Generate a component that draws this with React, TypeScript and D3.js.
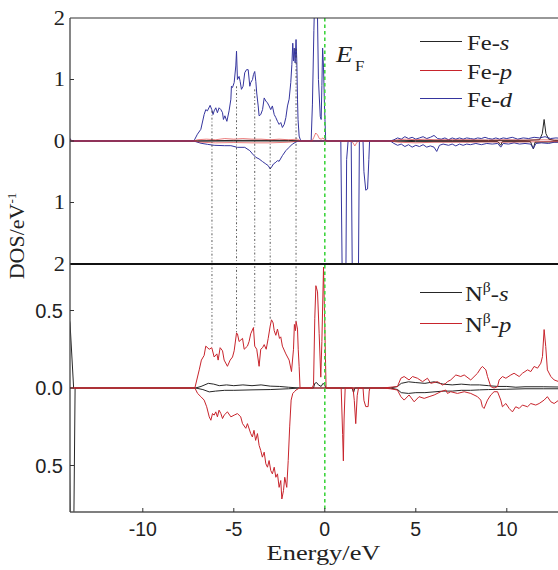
import React from "react";
import * as d3 from "d3";

type P = [number, number];

// ---------- data (energy in eV, DOS in states/eV) ----------
const xTicks = [-10, -5, 0, 5, 10];
const topTicks = [2, 1, 0, -1, -2];
const botTicks = [0.5, 0, -0.5];
const botTickLabels = ["0.5", "0.0", "0.5"];
const topLegend = ["s", "p", "d"];
const botLegend = ["s", "p"];

const feS_up: P[] = [[-14.05,0],[-14,0.03],[-13.9,0],[-7,0],[-5,0.01],[-2,0.01],[-1.4,0],[3.8,0],[5,0.01],[7,0.01],[9,0.01],[11,0.01],[11.8,0.02],[11.95,0.12],[12.05,0.35],[12.15,0.12],[12.3,0.03],[12.6,0.01],[13.5,0.01]];
const feS_dn: P[] = [[-14.05,0],[3.8,0],[5,-0.01],[9.5,-0.01],[9.67,-0.07],[9.75,-0.01],[11.3,-0.01],[11.46,-0.13],[11.55,-0.02],[13.5,-0.01]];

const feP_up: P[] = [[-14.05,0],[-14,0.03],[-13.9,0],[-7.2,0],[-7.0,0.02],[-6.5,0.03],[-6.0,0.02],[-5.5,0.04],[-5.0,0.03],[-4.5,0.04],[-4.0,0.03],[-3.5,0.03],[-3.0,0.02],[-2.5,0.03],[-2.0,0.02],[-1.5,0.03],[-1.35,0],[-0.7,0],[-0.6,0.06],[-0.5,0.13],[-0.4,0.1],[-0.3,0.04],[-0.2,0.03],[-0.1,0.05],[0.05,0],[3.6,0],[4.0,0.02],[4.5,0.03],[5,0.02],[5.5,0.03],[6,0.02],[7,0.02],[8,0.02],[9,0.015],[10,0.02],[11,0.015],[12,0.02],[13.5,0.01]];
const feP_dn: P[] = [[-14.05,0],[-7.2,0],[-6.8,-0.02],[-6.0,-0.03],[-5,-0.025],[-4,-0.03],[-3,-0.03],[-2,-0.02],[-1.4,0],[1.45,0],[1.55,-0.03],[1.65,-0.08],[1.75,-0.03],[1.85,0],[3.6,0],[4,-0.02],[5,-0.03],[6,-0.02],[7,-0.02],[8,-0.02],[9,-0.015],[10,-0.02],[11,-0.015],[12,-0.01],[13.5,-0.01]];

const feD_up: P[] = [[-14.05,0],[-14,0.04],[-13.9,0],[-7.2,0],[-7.14,0.03],[-7.0,0.11],[-6.81,0.19],[-6.63,0.43],[-6.54,0.51],[-6.45,0.49],[-6.3,0.58],[-6.21,0.51],[-6.14,0.43],[-6.08,0.49],[-5.99,0.54],[-5.9,0.46],[-5.81,0.54],[-5.71,0.51],[-5.62,0.46],[-5.57,0.35],[-5.49,0.41],[-5.38,0.32],[-5.26,0.49],[-5.16,0.68],[-5.13,0.89],[-5.07,0.87],[-4.98,0.95],[-4.89,1.22],[-4.85,1.46],[-4.8,1.0],[-4.71,1.05],[-4.65,0.97],[-4.58,0.84],[-4.49,0.89],[-4.4,1.11],[-4.3,1.16],[-4.21,1.16],[-4.12,0.89],[-4.07,0.95],[-3.97,1.0],[-3.92,1.08],[-3.85,1.13],[-3.79,0.97],[-3.74,0.78],[-3.66,0.57],[-3.61,0.41],[-3.52,0.43],[-3.42,0.51],[-3.33,0.70],[-3.24,0.65],[-3.15,0.62],[-3.06,0.57],[-2.97,0.51],[-2.88,0.57],[-2.78,0.43],[-2.69,0.38],[-2.6,0.32],[-2.51,0.27],[-2.42,0.30],[-2.33,0.22],[-2.23,0.27],[-2.14,0.38],[-2.05,0.57],[-1.96,0.68],[-1.87,0.95],[-1.81,1.24],[-1.76,1.59],[-1.72,1.3],[-1.68,1.51],[-1.63,1.27],[-1.58,1.65],[-1.54,1.32],[-1.5,0.68],[-1.47,0.35],[-1.41,0.08],[-1.32,0],[-0.75,0],[-0.68,0.6],[-0.6,1.8],[-0.5,3.0],[-0.42,2.4],[-0.35,1.0],[-0.25,0.4],[-0.2,0.35],[-0.16,0.9],[-0.12,1.51],[-0.07,1.2],[-0.02,0.6],[0.05,0],[3.6,0],[3.8,0.02],[4.0,0.05],[4.2,0.03],[4.4,0.07],[4.6,0.04],[4.8,0.06],[5.0,0.03],[5.2,0.05],[5.4,0.07],[5.6,0.04],[5.8,0.06],[6.0,0.09],[6.2,0.04],[6.4,0.03],[6.6,0.05],[6.8,0.02],[7.0,0.05],[7.2,0.03],[7.4,0.05],[7.6,0.03],[7.8,0.05],[8.0,0.04],[8.2,0.03],[8.4,0.05],[8.6,0.04],[8.8,0.06],[9.0,0.04],[9.2,0.03],[9.4,0.05],[9.6,0.03],[9.8,0.05],[10.0,0.04],[10.3,0.06],[10.6,0.03],[10.9,0.05],[11.2,0.04],[11.5,0.06],[11.8,0.05],[12.1,0.07],[12.4,0.04],[12.7,0.05],[13.5,0.03]];
const feD_dn: P[] = [[-14.05,0],[-7.2,0],[-7.1,-0.01],[-6.8,-0.037],[-6.45,-0.054],[-6.08,-0.07],[-5.5,-0.076],[-5.16,-0.076],[-4.8,-0.103],[-4.4,-0.103],[-4.12,-0.157],[-3.97,-0.211],[-3.79,-0.265],[-3.61,-0.292],[-3.42,-0.335],[-3.24,-0.373],[-3.11,-0.4],[-3.0,-0.454],[-2.93,-0.427],[-2.82,-0.373],[-2.69,-0.346],[-2.6,-0.319],[-2.51,-0.33],[-2.33,-0.238],[-2.14,-0.157],[-1.96,-0.103],[-1.78,-0.05],[-1.58,-0.016],[-1.41,0],[0.88,0],[0.97,-2.6],[1.06,-2.8],[1.15,-2.6],[1.2,-0.3],[1.28,0],[1.45,0],[1.52,-2.5],[1.68,-2.8],[1.84,-2.5],[1.9,0],[2.1,0],[2.15,-0.5],[2.25,-0.8],[2.35,-0.78],[2.42,-0.3],[2.46,0],[3.6,0],[3.8,-0.04],[4.0,-0.07],[4.2,-0.05],[4.4,-0.09],[4.6,-0.06],[4.8,-0.1],[5.0,-0.07],[5.2,-0.09],[5.4,-0.06],[5.6,-0.1],[5.8,-0.08],[6.0,-0.1],[6.15,-0.17],[6.3,-0.07],[6.5,-0.05],[6.8,-0.07],[7.0,-0.05],[7.2,-0.08],[7.4,-0.05],[7.6,-0.07],[7.8,-0.05],[8.0,-0.06],[8.3,-0.04],[8.6,-0.06],[8.9,-0.04],[9.2,-0.05],[9.5,-0.04],[9.67,-0.1],[9.8,-0.04],[10.1,-0.05],[10.4,-0.03],[10.7,-0.05],[11.0,-0.04],[11.3,-0.05],[11.46,-0.12],[11.6,-0.04],[11.9,-0.03],[12.3,-0.04],[12.6,-0.02],[13.5,-0.02]];

const nS_up: P[] = [[-14.05,0.45],[-14,0.42],[-13.8,0],[-7.1,0],[-6.8,0.01],[-6.4,0.03],[-6.1,0.025],[-5.8,0.015],[-5.4,0.02],[-5,0.015],[-4.5,0.02],[-4,0.015],[-3.5,0.02],[-3,0.012],[-2.5,0.01],[-2,0.005],[-1.4,0],[-0.62,0],[-0.55,0.03],[-0.45,0.035],[-0.35,0.02],[-0.2,0.01],[-0.1,0.03],[0,0.02],[0.05,0],[3.6,0],[4.0,0.01],[4.2,0.03],[4.6,0.04],[5.0,0.035],[5.5,0.03],[6.0,0.04],[6.5,0.025],[7.0,0.02],[7.5,0.025],[8.0,0.02],[8.5,0.02],[9.0,0.015],[9.5,0.01],[10,0.01],[10.5,0.005],[11,0.008],[12,0.008],[13.5,0.005]];
const nS_dn: P[] = [[-14.05,-0.3],[-13.97,-1.0],[-13.8,-1.0],[-13.72,0],[-7.1,0],[-6.7,-0.01],[-6.35,-0.025],[-6.0,-0.02],[-5.5,-0.015],[-5,-0.015],[-4,-0.012],[-3,-0.01],[-2,-0.005],[-1.4,0],[1.5,0],[1.58,-0.03],[1.65,0],[3.6,0],[4.0,-0.01],[4.2,-0.03],[4.6,-0.035],[5.0,-0.03],[5.5,-0.03],[6.0,-0.025],[6.5,-0.02],[7.0,-0.02],[7.5,-0.015],[8,-0.015],[8.5,-0.012],[9,-0.01],[10,-0.008],[11,-0.005],[12,-0.005],[13.5,-0.005]];

const nP_up: P[] = [[-14.05,0],[-7.14,0],[-6.9,0.117],[-6.78,0.18],[-6.63,0.21],[-6.54,0.27],[-6.35,0.25],[-6.21,0.26],[-6.08,0.2],[-5.93,0.22],[-5.86,0.18],[-5.75,0.26],[-5.62,0.24],[-5.53,0.18],[-5.35,0.14],[-5.2,0.18],[-5.07,0.2],[-4.98,0.24],[-4.85,0.355],[-4.8,0.35],[-4.71,0.3],[-4.52,0.32],[-4.43,0.25],[-4.25,0.27],[-4.16,0.3],[-4.07,0.35],[-3.92,0.39],[-3.85,0.27],[-3.74,0.25],[-3.61,0.14],[-3.52,0.25],[-3.42,0.26],[-3.33,0.28],[-3.22,0.25],[-3.11,0.32],[-3.0,0.40],[-2.93,0.44],[-2.84,0.42],[-2.78,0.37],[-2.69,0.34],[-2.6,0.38],[-2.49,0.32],[-2.42,0.33],[-2.33,0.27],[-2.14,0.22],[-1.96,0.18],[-1.83,0.106],[-1.72,0.25],[-1.67,0.41],[-1.61,0.37],[-1.58,0.43],[-1.5,0.38],[-1.46,0.25],[-1.41,0.14],[-1.36,0],[-0.7,0],[-0.62,0.02],[-0.55,0.45],[-0.49,0.66],[-0.4,0.62],[-0.31,0.35],[-0.22,0.07],[-0.16,0.3],[-0.07,0.78],[0,0.4],[0.07,0],[3.2,0],[3.6,0.005],[3.99,0.009],[4.18,0.063],[4.36,0.074],[4.63,0.052],[4.82,0.074],[5.09,0.063],[5.37,0.041],[5.64,0.063],[5.82,0.03],[6.19,0.041],[6.47,0.019],[6.65,0.03],[6.74,0.041],[6.92,0.052],[7.2,0.084],[7.47,0.074],[7.66,0.084],[8.02,0.052],[8.39,0.095],[8.57,0.128],[8.66,0.139],[8.85,0.117],[8.94,0.074],[9.12,0.009],[9.3,0.0],[9.49,0.009],[9.58,0.052],[9.76,0.074],[9.95,0.063],[10.22,0.084],[10.4,0.095],[10.68,0.074],[10.86,0.095],[11.14,0.117],[11.32,0.106],[11.5,0.139],[11.69,0.128],[11.87,0.16],[11.96,0.203],[12.05,0.377],[12.14,0.268],[12.23,0.117],[12.42,0.074],[12.6,0.052],[12.86,0.041],[13.5,0.04]];
const nP_dn: P[] = [[-14.05,0],[-7.14,0],[-6.99,-0.035],[-6.81,-0.056],[-6.63,-0.078],[-6.49,-0.121],[-6.35,-0.186],[-6.26,-0.208],[-6.17,-0.165],[-6.08,-0.175],[-5.99,-0.154],[-5.9,-0.186],[-5.81,-0.143],[-5.71,-0.165],[-5.62,-0.197],[-5.53,-0.175],[-5.35,-0.154],[-5.16,-0.186],[-4.98,-0.175],[-4.8,-0.165],[-4.62,-0.186],[-4.52,-0.23],[-4.34,-0.26],[-4.25,-0.23],[-4.07,-0.294],[-3.98,-0.316],[-3.89,-0.273],[-3.8,-0.338],[-3.7,-0.294],[-3.61,-0.37],[-3.52,-0.403],[-3.43,-0.446],[-3.33,-0.414],[-3.24,-0.489],[-3.15,-0.511],[-3.06,-0.468],[-2.97,-0.532],[-2.88,-0.554],[-2.78,-0.511],[-2.69,-0.576],[-2.6,-0.554],[-2.51,-0.641],[-2.42,-0.597],[-2.36,-0.716],[-2.27,-0.662],[-2.2,-0.576],[-2.09,-0.641],[-2.01,-0.468],[-1.93,-0.251],[-1.85,-0.078],[-1.76,-0.035],[-1.67,-0.024],[-1.58,-0.013],[-1.39,0],[0.9,0],[0.98,-0.3],[1.02,-0.47],[1.06,-0.2],[1.12,0],[1.55,0],[1.62,-0.08],[1.7,-0.23],[1.78,-0.05],[1.85,0],[2.1,0],[2.15,-0.08],[2.25,-0.12],[2.38,-0.12],[2.44,-0.02],[2.48,0],[3.2,0],[3.6,-0.005],[3.99,-0.013],[4.18,-0.056],[4.36,-0.078],[4.63,-0.045],[4.91,-0.089],[5.18,-0.056],[5.46,-0.067],[5.73,-0.056],[6.01,-0.045],[6.37,-0.024],[6.65,-0.013],[6.74,-0.035],[6.92,-0.024],[7.29,-0.035],[7.66,-0.024],[8.02,-0.035],[8.39,-0.056],[8.57,-0.078],[8.66,-0.121],[8.75,-0.132],[8.94,-0.078],[9.12,-0.045],[9.3,-0.024],[9.49,-0.024],[9.67,-0.078],[9.76,-0.121],[9.95,-0.1],[10.13,-0.132],[10.31,-0.154],[10.49,-0.121],[10.68,-0.132],[10.86,-0.11],[11.14,-0.121],[11.32,-0.1],[11.59,-0.11],[11.78,-0.1],[12.05,-0.078],[12.23,-0.056],[12.42,-0.089],[12.6,-0.1],[12.86,-0.078],[13.5,-0.08]];

// guide lines linking Fe-d and N-p peaks
const guideE = [-6.2, -4.85, -3.85, -3.0, -1.58];
const guideTop = [0.49, 0.89, 0.84, 0.35, 1.5];
const guideBot = [0.27, 0.36, 0.39, 0.44, 0.43];

// ---------- styling ----------
const C_BLACK = "#262626";
const C_RED = "#c8242c";
const C_BLUE = "#35359e";
const SERIF = "Liberation Serif, Times New Roman, DejaVu Serif, serif";
const SANS = "Liberation Sans, Arial, sans-serif";

export default function App() {
  const W = 558, H = 570;
  const left = 70, top = 18, mid = 264, bottom = 512;
  const x = d3.scaleLinear().domain([-14, 16]).range([left, left + 30 * 18.2]);
  const yT = d3.scaleLinear().domain([-2, 2]).range([mid, top]);
  const yB = d3.scaleLinear().domain([-0.8, 0.8]).range([bottom, mid]);
  const lineT = d3.line<P>().x(d => x(d[0])).y(d => yT(d[1]));
  const lineB = d3.line<P>().x(d => x(d[0])).y(d => yB(d[1]));
  const ef = x(0);
  const serif = { fontFamily: SERIF };
  const sans = { fontFamily: SANS };
  const SX = 1.12; // horizontal stretch of the serif text in the original figure
  const topLegendY = [41.5, 70.5, 98.5];
  const botLegendY = [292.5, 323.5];
  const topLegendCol = [C_BLACK, C_RED, C_BLUE];
  const botLegendCol = [C_BLACK, C_RED];

  return (
    <svg width={W} height={H} style={{ position: "absolute", left: 0, top: 0, background: "#fff" }}>
      <defs>
        <clipPath id="ct"><rect x={left} y={top} width={W - left} height={mid - top} /></clipPath>
        <clipPath id="cb"><rect x={left} y={mid} width={W - left} height={bottom - mid} /></clipPath>
      </defs>

      {/* top panel curves */}
      <g clipPath="url(#ct)" fill="none" strokeWidth={1}>
        <path d={lineT(feS_up)!} stroke={C_BLACK} />
        <path d={lineT(feS_dn)!} stroke={C_BLACK} />
        <path d={lineT(feD_up)!} stroke={C_BLUE} />
        <path d={lineT(feD_dn)!} stroke={C_BLUE} />
        <path d={lineT(feP_up)!} stroke="#e02a2a" strokeOpacity={0.6} />
        <path d={lineT(feP_dn)!} stroke="#e02a2a" strokeOpacity={0.6} />
      </g>

      {/* bottom panel curves */}
      <g clipPath="url(#cb)" fill="none" strokeWidth={1}>
        <path d={lineB(nS_up)!} stroke={C_BLACK} />
        <path d={lineB(nS_dn)!} stroke={C_BLACK} />
        <path d={lineB(nP_up)!} stroke={C_RED} />
        <path d={lineB(nP_dn)!} stroke={C_RED} />
      </g>

      {/* guide lines */}
      {guideE.map((e, i) => (
        <line key={i} x1={x(e)} x2={x(e)} y1={yT(guideTop[i])} y2={yB(guideBot[i])}
          stroke="#333" strokeWidth={0.8} strokeDasharray="2 2 0.8 2" />
      ))}

      {/* Fermi level */}
      <line x1={ef} x2={ef} y1={top} y2={bottom} stroke="#3fd43f" strokeWidth={1.6} strokeDasharray="3.5 3" />

      {/* frames */}
      <line x1={left} x2={W} y1={top} y2={top} stroke="#333" strokeWidth={1.2} />
      <line x1={left} x2={W} y1={mid} y2={mid} stroke="#111" strokeWidth={2} />
      <line x1={left} x2={W} y1={bottom} y2={bottom} stroke="#555" strokeWidth={1.5} />
      <line x1={left} x2={left} y1={top} y2={bottom} stroke="#444" strokeWidth={1.3} />

      {/* top y ticks */}
      {topTicks.map(t => (
        <g key={"tt" + t}>
          {Math.abs(t) < 2 && <line x1={left} x2={left + 4} y1={yT(t)} y2={yT(t)} stroke="#333" />}
          <text transform={`translate(65,${yT(t)}) scale(${SX},1)`} dy="0.34em" textAnchor="end" style={serif} fontSize={20} fill="#222">{Math.abs(t)}</text>
        </g>
      ))}
      {/* bottom y ticks */}
      {botTicks.map((t, i) => (
        <g key={"bt" + i}>
          <line x1={left} x2={left + 4} y1={yB(t)} y2={yB(t)} stroke="#333" />
          <text x={63} y={yB(t)} dy="0.36em" textAnchor="end" style={sans} fontSize={20} fill="#222">{botTickLabels[i]}</text>
        </g>
      ))}
      {/* x ticks */}
      {xTicks.map(t => (
        <g key={"xt" + t}>
          <line x1={x(t)} x2={x(t)} y1={bottom} y2={bottom - 4} stroke="#333" />
          <text x={x(t)} y={535.5} textAnchor="middle" style={sans} fontSize={19.5} fill="#222">{String(t)}</text>
        </g>
      ))}

      {/* axis titles */}
      <text transform={`translate(323.5,560) scale(${SX + 0.08},1)`} textAnchor="middle" style={serif} fontSize={22} fill="#222">Energy/eV</text>
      <text transform="translate(24,236) rotate(-90)" textAnchor="middle" style={serif} fontSize={22} fill="#222">
        DOS/eV<tspan dy={-8} fontSize={13}>-1</tspan>
      </text>

      {/* E_F label */}
      <text transform={`translate(336,62) scale(${SX},1)`} style={serif} fontSize={24} fontStyle="italic" fill="#222">E</text>
      <text transform={`translate(355,71) scale(${SX},1)`} style={serif} fontSize={15} fill="#222">F</text>

      {/* top legend */}
      {topLegend.map((o, i) => (
        <g key={"lg" + o}>
          <line x1={420} x2={462} y1={topLegendY[i]} y2={topLegendY[i]} stroke={topLegendCol[i]} strokeWidth={1} />
          <text transform={`translate(467,${topLegendY[i] + 8}) scale(${SX},1)`} style={serif} fontSize={22} fill="#222">
            Fe-<tspan fontStyle="italic">{o}</tspan>
          </text>
        </g>
      ))}
      {/* bottom legend */}
      {botLegend.map((o, i) => (
        <g key={"lb" + o}>
          <line x1={420} x2={462} y1={botLegendY[i]} y2={botLegendY[i]} stroke={botLegendCol[i]} strokeWidth={1} />
          <text transform={`translate(465,${botLegendY[i] + 8}) scale(${SX},1)`} style={serif} fontSize={22} fill="#222">
            N<tspan dy={-9} fontSize={14}>β</tspan><tspan dy={9}>-</tspan><tspan fontStyle="italic">{o}</tspan>
          </text>
        </g>
      ))}
    </svg>
  );
}
